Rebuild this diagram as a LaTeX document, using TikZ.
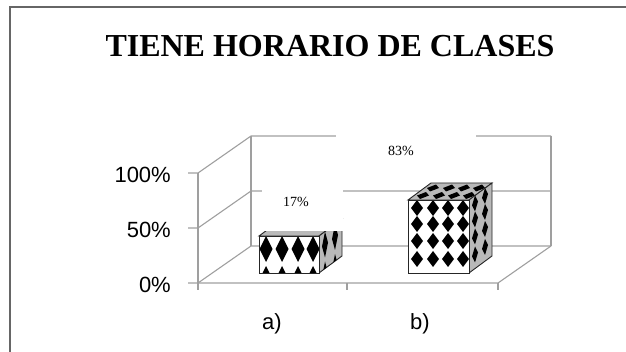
\documentclass[tikz,border=0pt]{standalone}
\usepackage{fontspec}
\setmainfont{Liberation Serif}
\newfontfamily\arialfont{Liberation Sans}
\begin{document}
\begin{tikzpicture}[x=1pt,y=-1pt,
    gridline/.style={draw=gray!75, line width=1.1pt},
    frontface/.style={fill=white, draw=black!85, line width=0.9pt},
    shadeface/.style={fill=gray!55, draw=black!85, line width=0.9pt},
    pctlabel/.style={inner sep=0pt, font=\fontsize{14}{16}\selectfont},
    axislabel/.style={anchor=east, inner sep=0pt, font=\arialfont\fontsize{22}{24}\selectfont},
    catlabel/.style={inner sep=0pt, font=\arialfont\fontsize{22}{24}\selectfont}]

    \useasboundingbox (0,0) rectangle (626,352);
    \draw[gray!80!black, line width=2pt] (10,352) -- (10,7) -- (626,7);

    \node (title) at (330,46) {\fontsize{32}{38}\selectfont\bfseries TIENE HORARIO DE CLASES};

    % walls and gridlines
    \foreach \fy/\lab in {283/0\%,228/50\%,173/100\%} {
        \draw[gridline] (188,\fy) -- (198,\fy) -- (251,\fy-37) -- (551,\fy-37);
        \node[axislabel] (lab\fy) at (171,\fy+2) {\lab};
    }
    \draw[gridline] (251,136) -- (251,246);
    \draw[gridline] (551,136) -- (551,246);
    \draw[gridline] (198,173) -- (198,290);
    \draw[gridline] (198,283) -- (498,283) -- (551,246);
    \foreach \x in {347,498}
        \draw[gridline] (\x,283) -- (\x,290);

    % bar a)
    \draw[shadeface] (259,236) -- (282,219) -- (342,219) -- (319,236) -- cycle;
    \draw[shadeface] (319,236) -- (342,219) -- (342,256) -- (319,273) -- cycle;
    \begin{scope}
        \clip (319,236) -- (342,219) -- (342,256) -- (319,273) -- cycle;
        \foreach \cy in {249,279}
            \foreach \dx/\dy in {6/-4.5,16/-12}
                \fill (319+\dx,\cy+\dy-13) -- (319+\dx+3,\cy+\dy-2) -- (319+\dx,\cy+\dy+13) -- (319+\dx-3,\cy+\dy+2) -- cycle;
    \end{scope}
    \draw[frontface] (259,236) rectangle (319,273);
    \begin{scope}
        \clip (259,236) rectangle (319,273);
        \foreach \cx in {266,282,298,313}
            \foreach \cy in {249,279}
                \fill (\cx,\cy-13) -- (\cx+6.5,\cy) -- (\cx,\cy+13) -- (\cx-6.5,\cy) -- cycle;
    \end{scope}
    \draw[black!85, line width=0.9pt] (259,236) rectangle (319,273);

    % bar b)
    \draw[shadeface] (408,200) -- (431,183) -- (492,183) -- (469,200) -- cycle;
    \begin{scope}
        \clip (408,200) -- (431,183) -- (492,183) -- (469,200) -- cycle;
        \foreach \cx in {417,433,448,463}
            \foreach \dx/\dy in {6/-4.5,16/-12}
                \fill (\cx+\dx-6,200+\dy) -- (\cx+\dx+3,200+\dy-3.5) -- (\cx+\dx+6,200+\dy) -- (\cx+\dx-3,200+\dy+3.5) -- cycle;
    \end{scope}
    \draw[shadeface] (469,200) -- (492,183) -- (492,256) -- (469,273) -- cycle;
    \begin{scope}
        \clip (469,200) -- (492,183) -- (492,256) -- (469,273) -- cycle;
        \foreach \cy in {208,224,241,259}
            \foreach \dx/\dy in {6/-4.5,16/-12}
                \fill (469+\dx,\cy+\dy-8) -- (469+\dx+3,\cy+\dy-2) -- (469+\dx,\cy+\dy+8) -- (469+\dx-3,\cy+\dy+2) -- cycle;
    \end{scope}
    \draw[frontface] (408,200) rectangle (469,273);
    \begin{scope}
        \clip (408,200) rectangle (469,273);
        \foreach \cx in {417,433,448,463}
            \foreach \cy in {208,224,241,259}
                \fill (\cx,\cy-8) -- (\cx+6,\cy) -- (\cx,\cy+8) -- (\cx-6,\cy) -- cycle;
    \end{scope}
    \draw[black!85, line width=0.9pt] (408,200) rectangle (469,273);

    % data labels
    \fill[white] (262,165) rectangle (343,231);
    \node[pctlabel] (pa) at (296,202) {17\%};
    \fill[white] (336,116) rectangle (476,180);
    \node[pctlabel] (pb) at (401,151) {83\%};

    \node[catlabel] (cata) at (272,324) {a)};
    \node[catlabel] (catb) at (420,324) {b)};
\end{tikzpicture}
\end{document}
